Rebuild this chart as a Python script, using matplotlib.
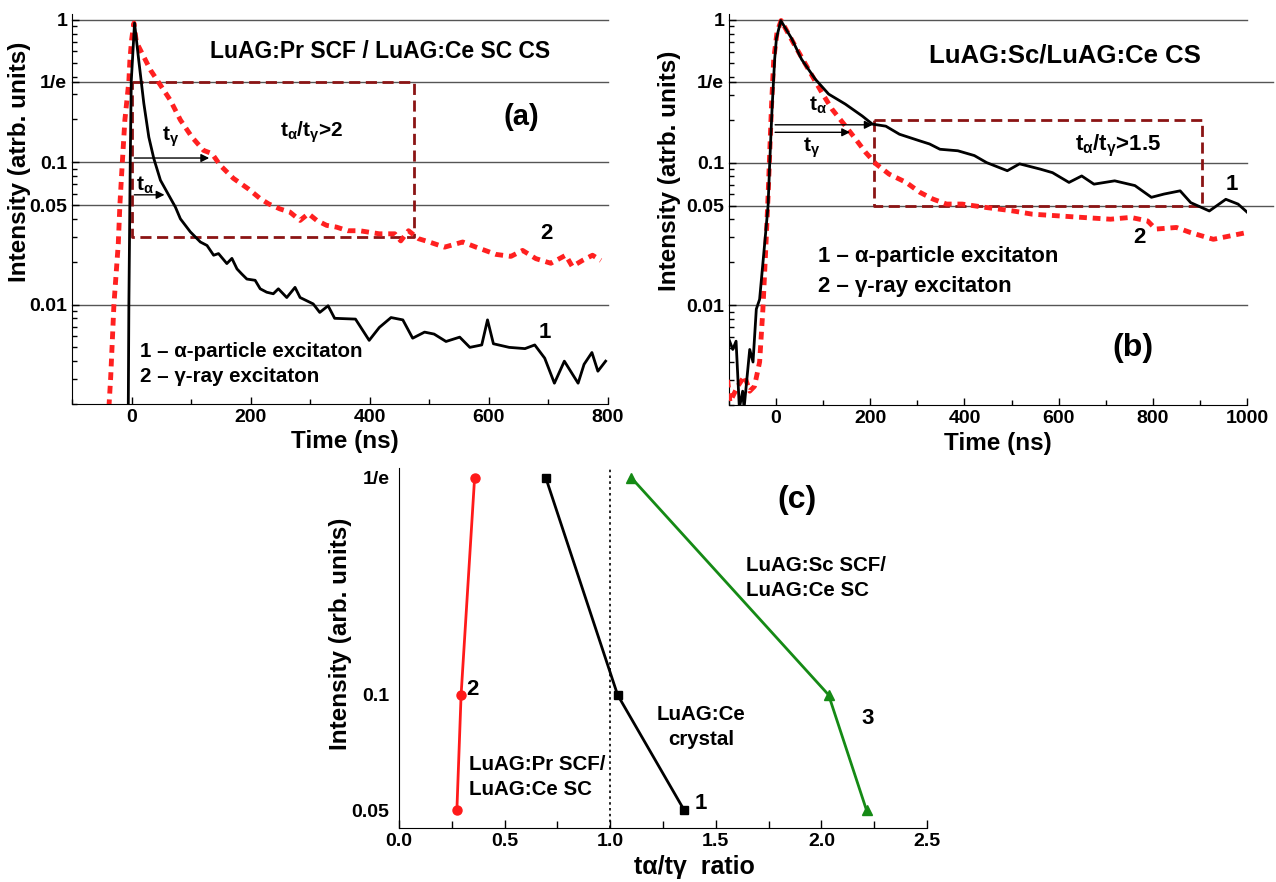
import numpy as np
import matplotlib
matplotlib.use("Agg")
import matplotlib.pyplot as plt
from matplotlib.ticker import (FixedLocator, FixedFormatter, LogLocator,
                               MultipleLocator, NullFormatter, NullLocator,
                               FormatStrFormatter)

plt.rcParams['font.family'] = ['Liberation Sans', 'DejaVu Sans']
plt.rcParams['font.weight'] = 'bold'
plt.rcParams['axes.labelweight'] = 'bold'
plt.rcParams['mathtext.fontset'] = 'custom'
plt.rcParams['mathtext.rm'] = 'Liberation Sans:bold'
plt.rcParams['mathtext.it'] = 'Liberation Sans:bold'
plt.rcParams['mathtext.bf'] = 'Liberation Sans:bold'

RE = 1 / np.e

# --- reference levels on the decay plots ---
levels = [0.01, 0.05, 0.1, RE, 1.0]
level_labels = ["0.01", "0.05", "0.1", "1/e", "1"]

# --- (a) LuAG:Pr SCF / LuAG:Ce SC ---
a_alpha_t = [-5.5, -4.5, -2.2, -0.5, 5, 12, 20.6, 29, 37.4, 48.5, 62.5, 73.6, 82,
             98.7, 115.5, 126.7, 137.8, 146, 160, 168.5, 177, 185, 193.6, 207.5,
             216, 227, 238, 246.5, 260.6, 274.5, 283, 305, 316, 330, 341, 376, 399,
             416, 435.7, 455.5, 472, 492, 508, 528, 551, 568, 588, 597.7, 607.6,
             634, 660.6, 677, 693.7, 710, 726.7, 749.8, 759.8, 773, 783, 796]
a_alpha_I = [0.0019, 0.01, 0.1, 0.37, 0.95, 0.523, 0.259, 0.150, 0.106, 0.0747,
             0.0586, 0.0484, 0.040, 0.0324, 0.0275, 0.0260, 0.0222, 0.0228, 0.0194,
             0.0211, 0.0178, 0.0164, 0.0151, 0.0148, 0.0129, 0.0122, 0.0119, 0.0129,
             0.0112, 0.0132, 0.0112, 0.0101, 0.0088, 0.0098, 0.0080, 0.0079, 0.0056,
             0.0069, 0.0081, 0.0078, 0.0058, 0.0064, 0.0062, 0.0055, 0.0059, 0.0050,
             0.0052, 0.0078, 0.0053, 0.0050, 0.0049, 0.0052, 0.0042, 0.0028, 0.0040,
             0.0028, 0.0038, 0.0046, 0.0034, 0.0040]

a_gamma_t = [-38, -35, -29.6, -22.3, -19.5, -15.6, -11.2, -4.5, -2.8, 0, 4, 8, 31.8,
             48.5, 65, 82, 101.5, 121, 135, 149, 171, 196, 216, 230, 249, 266, 283,
             297, 311, 327.5, 344, 363, 383, 416, 442, 452, 465, 482, 500, 525.5,
             556, 578.5, 612, 637, 656.6, 679, 704, 729, 740, 757, 774, 788]
a_gamma_I = [0.0019, 0.0031, 0.01, 0.0267, 0.051, 0.098, 0.198, 0.372, 0.52, 0.72,
             0.95, 0.70, 0.444, 0.348, 0.273, 0.198, 0.150, 0.121, 0.115, 0.095,
             0.077, 0.065, 0.0555, 0.051, 0.047, 0.0446, 0.039, 0.0435, 0.039, 0.036,
             0.035, 0.033, 0.033, 0.0314, 0.0314, 0.028, 0.033, 0.029, 0.0275,
             0.0253, 0.0275, 0.0253, 0.0225, 0.0218, 0.024, 0.021, 0.0195, 0.0222,
             0.0185, 0.0204, 0.0222, 0.0204]

# --- (b) LuAG:Sc / LuAG:Ce ---
b_alpha_t = [-103, -92, -85, -78, -71, -68, -56, -49, -42, -35, -24, -17, -13.5,
             -8.6, -3, 0.7, 10, 33, 54, 83, 111.6, 147, 183, 204.5, 233, 262, 305,
             326, 348, 386, 421, 447, 491, 517, 561, 587, 622, 649, 675, 719, 762,
             797, 824, 858, 880.5, 920, 955, 981, 1000]
b_alpha_I = [0.0061, 0.0049, 0.0056, 0.0019, 0.0025, 0.0019, 0.0049, 0.004, 0.0094,
             0.011, 0.0276, 0.05, 0.1, 0.238, 0.532, 0.74, 0.99, 0.74, 0.53, 0.385,
             0.302, 0.257, 0.212, 0.186, 0.18, 0.158, 0.142, 0.135, 0.124, 0.121,
             0.112, 0.1, 0.0877, 0.098, 0.090, 0.085, 0.0726, 0.0806, 0.0706,
             0.0745, 0.069, 0.0571, 0.0602, 0.0634, 0.0524, 0.0458, 0.0553, 0.0512,
             0.045]

b_gamma_t = [-103, -98, -81.5, -67, -56, -46, -35, -28, -22, -17, -13.5, -10, -5, 2,
             10.7, 40, 68.7, 97, 118.7, 147, 169, 190, 212, 240, 276, 305, 333, 362,
             395, 447, 500, 544, 596, 649, 710, 753, 789, 806, 850, 880.5, 928.5,
             963.5, 998.5]
b_gamma_I = [0.003, 0.0021, 0.0027, 0.0032, 0.0025, 0.0027, 0.004, 0.0094, 0.0246,
             0.0585, 0.118, 0.238, 0.53, 0.82, 0.99, 0.66, 0.45, 0.31, 0.237, 0.181,
             0.146, 0.118, 0.098, 0.083, 0.0727, 0.062, 0.0555, 0.0512, 0.0512,
             0.0484, 0.046, 0.0435, 0.0424, 0.0413, 0.0401, 0.0413, 0.039, 0.0342,
             0.0351, 0.0323, 0.029, 0.0306, 0.0323]

# --- (c) t_alpha / t_gamma ratio at each level ---
c_levels = [RE, 0.1, 0.05]
c_ratio_pr = [0.358, 0.294, 0.274]   # 2: LuAG:Pr SCF / LuAG:Ce SC
c_ratio_ce = [0.695, 1.035, 1.351]   # 1: LuAG:Ce crystal
c_ratio_sc = [1.10, 2.034, 2.214]    # 3: LuAG:Sc SCF / LuAG:Ce SC

RED = "#ff2020"
BOX = "#8b1414"
GRID = "#555555"

W, H = 1276, 882
fig = plt.figure(figsize=(W / 100, H / 100), dpi=100)
ax_a = fig.add_axes([72 / W, 1 - 404 / H, 536 / W, 390 / H])
ax_b = fig.add_axes([729 / W, 1 - 405 / H, 518 / W, 391 / H])
ax_c = fig.add_axes([399 / W, 1 - 828 / H, 528 / W, 360 / H])


def decay_axes(ax, xmax, long_levels=()):
    ax.set_yscale("log")
    ax.set_xlim(-100, xmax)
    ax.set_ylim(0.002, 1.1)
    for s in ("top", "right"):
        ax.spines[s].set_visible(False)
    for v in levels:
        ext = 1.05 if v in long_levels else 1.0
        ax.axhline(v, xmin=0, xmax=ext, color=GRID, lw=1.0, zorder=0, clip_on=False)
    ax.yaxis.set_major_locator(FixedLocator(levels))
    ax.yaxis.set_major_formatter(FixedFormatter(level_labels))
    ax.yaxis.set_minor_locator(LogLocator(base=10, subs=np.arange(2, 10), numticks=20))
    ax.yaxis.set_minor_formatter(NullFormatter())
    ax.xaxis.set_major_locator(MultipleLocator(200))
    ax.xaxis.set_minor_locator(MultipleLocator(100))
    ax.tick_params(which="both", direction="in", labelsize=14, width=1)
    ax.tick_params(which="major", length=5)
    ax.tick_params(which="minor", length=3.5)
    ax.set_xlabel("Time (ns)", fontsize=17.5)
    ax.set_ylabel("Intensity (atrb. units)", fontsize=17.5)


arrow = dict(arrowstyle="-|>", color="black", lw=1, mutation_scale=12)

# ---------------- (a) ----------------
decay_axes(ax_a, 800)
ax_a.plot(a_gamma_t, a_gamma_I, color=RED, lw=3.5, ls=(0, (1.6, 1.2)), zorder=3)
ax_a.plot([0, 475, 475, 0, 0], [RE, RE, 0.03, 0.03, RE], color=BOX, lw=2,
          ls=(0, (4, 2)), zorder=2)
ax_a.plot(a_alpha_t, a_alpha_I, color="black", lw=2, zorder=4)
ax_a.annotate("", xy=(135, 0.107), xytext=(0, 0.107), arrowprops=arrow)
ax_a.annotate("", xy=(60, 0.059), xytext=(0, 0.059), arrowprops=arrow)
ax_a.text(65, 0.15, "t$_γ$", fontsize=15, ha="center", va="center")
ax_a.text(23, 0.069, "t$_α$", fontsize=15, ha="center", va="center")
ax_a.text(303, 0.163, "t$_α$/t$_γ$>2", fontsize=15, ha="center", va="center")
ax_a.text(417, 0.6, "LuAG:Pr SCF / LuAG:Ce SC CS", fontsize=16.5, ha="center",
          va="center")
ax_a.text(654, 0.208, "(a)", fontsize=21, ha="center", va="center")
ax_a.text(697, 0.0315, "2", fontsize=16, ha="center", va="center")
ax_a.text(694, 0.0064, "1", fontsize=16, ha="center", va="center")
ax_a.text(15, 0.0047, "1 – α-particle excitaton", fontsize=14.8, ha="left", va="center")
ax_a.text(15, 0.0031, "2 – γ-ray excitaton", fontsize=14.8, ha="left", va="center")
ax_a.yaxis.set_label_coords(-0.076, 0.62)
ax_a.xaxis.set_label_coords(0.51, -0.066)

# ---------------- (b) ----------------
decay_axes(ax_b, 1000, long_levels=(RE, 0.05))
ax_b.plot(b_gamma_t, b_gamma_I, color=RED, lw=3.5, ls=(0, (1.6, 1.2)), zorder=3)
ax_b.plot([207, 905, 905, 207, 207], [0.2, 0.2, 0.05, 0.05, 0.2], color=BOX, lw=2,
          ls=(0, (4, 2)), zorder=2)
ax_b.plot(b_alpha_t, b_alpha_I, color="black", lw=2, zorder=4)
ax_b.annotate("", xy=(211, 0.184), xytext=(-8, 0.184), arrowprops=arrow)
ax_b.annotate("", xy=(163, 0.163), xytext=(-8, 0.163), arrowprops=arrow)
ax_b.text(89, 0.25, "t$_α$", fontsize=15, ha="center", va="center")
ax_b.text(75, 0.128, "t$_γ$", fontsize=15, ha="center", va="center")
ax_b.text(727, 0.131, "t$_α$/t$_γ$>1.5", fontsize=16, ha="center", va="center")
ax_b.text(614, 0.56, "LuAG:Sc/LuAG:Ce CS", fontsize=18.5, ha="center", va="center")
ax_b.text(757, 0.005, "(b)", fontsize=23, ha="center", va="center")
ax_b.text(968, 0.0706, "1", fontsize=16, ha="center", va="center")
ax_b.text(771, 0.030, "2", fontsize=16, ha="center", va="center")
ax_b.text(89, 0.022, "1 – α-particle excitaton", fontsize=16, ha="left", va="center")
ax_b.text(89, 0.0136, "2 – γ-ray excitaton", fontsize=16, ha="left", va="center")
ax_b.yaxis.set_label_coords(-0.093, 0.60)
ax_b.xaxis.set_label_coords(0.52, -0.07)

# ---------------- (c) ----------------
ax_c.set_yscale("log")
ax_c.set_xlim(0, 2.5)
ax_c.set_ylim(0.045, 0.39)
for s in ("top", "right"):
    ax_c.spines[s].set_visible(False)
ax_c.axvline(1.0, color="black", lw=1.2, ls=(0, (1.5, 2)), zorder=1)
ax_c.plot(c_ratio_pr, c_levels, color="#ff1a1a", lw=2, marker="o", ms=6.5, zorder=3)
ax_c.plot(c_ratio_ce, c_levels, color="black", lw=2, marker="s", ms=5.5, zorder=3)
ax_c.plot(c_ratio_sc, c_levels, color="#158a15", lw=2, marker="^", ms=7.5, zorder=3)
ax_c.yaxis.set_major_locator(FixedLocator([0.05, 0.1, RE]))
ax_c.yaxis.set_major_formatter(FixedFormatter(["0.05", "0.1", "1/e"]))
ax_c.yaxis.set_minor_locator(NullLocator())
ax_c.xaxis.set_major_locator(MultipleLocator(0.5))
ax_c.xaxis.set_minor_locator(MultipleLocator(0.25))
ax_c.xaxis.set_major_formatter(FormatStrFormatter("%.1f"))
ax_c.tick_params(which="both", direction="in", labelsize=14, width=1)
ax_c.tick_params(axis="x", which="major", length=6)
ax_c.tick_params(axis="x", which="minor", length=5)
ax_c.tick_params(axis="y", length=0, pad=7)
ax_c.text(1.883, 0.321, "(c)", fontsize=23, ha="center", va="center")
ax_c.text(1.642, 0.2015, "LuAG:Sc SCF/\nLuAG:Ce SC", fontsize=14.8, ha="left",
          va="center", linespacing=1.4)
ax_c.text(1.432, 0.0827, "LuAG:Ce\ncrystal", fontsize=14.8, ha="center",
          va="center", linespacing=1.4)
ax_c.text(0.331, 0.0612, "LuAG:Pr SCF/\nLuAG:Ce SC", fontsize=14.8, ha="left",
          va="center", linespacing=1.4)
ax_c.text(0.317, 0.103, "2", fontsize=16, ha="left", va="center")
ax_c.text(1.428, 0.052, "1", fontsize=16, ha="center", va="center")
ax_c.text(2.218, 0.087, "3", fontsize=16, ha="center", va="center")
ax_c.set_xlabel("tα/tγ  ratio", fontsize=18)
ax_c.set_ylabel("Intensity (arb. units)", fontsize=17.5)
ax_c.yaxis.set_label_coords(-0.089, 0.54)
ax_c.xaxis.set_label_coords(0.56, -0.075)

fig.savefig("out.png", dpi=100)
